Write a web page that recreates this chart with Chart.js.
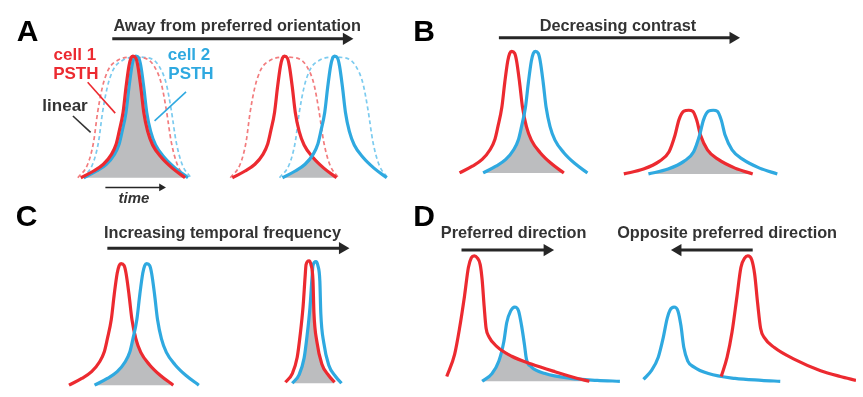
<!DOCTYPE html>
<html>
<head>
<meta charset="utf-8">
<script src="https://cdn.jsdelivr.net/npm/chart.js@4"></script>
<style>
  html, body { margin: 0; padding: 0; background: #fff; }
  canvas { display: block; }
</style>
</head>
<body>
<canvas id="fig" width="863" height="397"></canvas>
<script>
// curve points in figure pixels (x right, y down)

// panel A, near preferred orientation
const aRedL = [[75,177],[88,170],[98,163],[106,153],[111,142],[114,129],[118,109],[121,83],[124,61],[126,53],[128,51],[131,53],[133,61],[136,83],[139,109],[143,129],[148,143],[157,156],[168,167],[181,177]];
const aBlueL = [[78,177],[91,170],[101,163],[109,153],[114,142],[117,129],[121,109],[124,83],[127,61],[129,53],[131,51],[134,53],[136,61],[139,83],[142,109],[146,129],[151,143],[160,156],[171,167],[184,177]];
const aGrayL = [[78,177],[91,170],[101,163],[109,153],[114,142],[117,129],[121,109],[124,83],[127,61],[129.5,54],[133,61],[136,83],[139,109],[143,129],[148,143],[157,156],[168,167],[181,177]];
const aRedDashL = [[72,177],[82,163],[88,140],[92,110],[97,83],[103,65],[113,55],[127,52],[140,53],[150,62],[157,80],[162,107],[167,140],[173,163],[182,177]];
const aBlueDashL = [[77,177],[87,163],[93,140],[97,110],[102,83],[108,65],[118,55],[132,52],[145,53],[155,62],[162,80],[167,107],[172,140],[178,163],[187,177]];

// panel A, away from preferred orientation
const aRedR = [[229,177],[242,170],[252,163],[260,153],[265,142],[268,129],[272,109],[275,83],[278,61],[280,53],[282,51],[285,53],[287,61],[290,83],[293,109],[297,129],[302,143],[311,156],[322,167],[335,177]];
const aBlueR = [[280,177],[293,170],[303,163],[311,153],[316,142],[319,129],[323,109],[326,83],[329,61],[331,53],[333,51],[336,53],[338,61],[341,83],[344,109],[348,129],[353,143],[362,156],[373,167],[386,177]];
const aGrayR = [[280,177],[293,170],[303,163],[310,154.5],[322,167],[335,177]];
const aRedDashR = [[227,177],[237,163],[243,140],[247,110],[252,83],[258,65],[268,55],[282,52],[295,53],[305,62],[312,80],[317,107],[322,140],[328,163],[337,177]];
const aBlueDashR = [[277,177],[287,163],[293,140],[297,110],[302,83],[308,65],[318,55],[332,52],[345,53],[355,62],[362,80],[367,107],[372,140],[378,163],[387,177]];

// panel B
const bRedBig = [[460,172],[473,165],[483,158],[491,148],[496,137],[499,124],[503,104],[506,78],[509,56],[511,48],[513,46],[516,48],[518,56],[521,78],[524,104],[528,124],[533,138],[542,151],[553,162],[566,172]];
const bBlueBig = [[484,172],[497,165],[507,158],[515,148],[520,137],[523,124],[527,104],[530,78],[533,56],[535,48],[537,46],[540,48],[542,56],[545,78],[548,104],[552,124],[557,138],[566,151],[577,162],[590,172]];
const bGrayBig = [[484,172],[497,165],[507,158],[515,148],[520,137],[523,124],[525.5,111],[528,124],[533,138],[542,151],[553,162],[566,172]];
const bRedSmall = [[627,173],[647,168],[663,160],[673,150],[679,133],[683,117],[688,108],[693,107],[697,108],[701,117],[705,133],[712,148],[723,158],[740,167],[758,173]];
const bBlueSmall = [[652,173],[672,168],[688,160],[698,150],[704,133],[708,117],[713,108],[718,107],[722,108],[726,117],[730,133],[737,148],[748,158],[765,167],[783,173]];
const bGraySmall = [[652,173],[672,168],[688,160],[698,150],[704.5,132],[712,148],[723,158],[740,167],[758,173]];

// panel C
const cRedWide = [[63,392],[76,385],[86,378],[94,368],[99,357],[102,344],[106,324],[109,298],[112,276],[114,268],[116,266],[119,268],[121,276],[124,298],[127,324],[131,344],[136,358],[145,371],[156,382],[169,392]];
const cBlueWide = [[89,392],[102,385],[112,378],[120,368],[125,357],[128,344],[132,324],[135,298],[138,276],[140,268],[142,266],[145,268],[147,276],[150,298],[153,324],[157,344],[162,358],[171,371],[182,382],[195,392]];
const cGrayWide = [[89,392],[102,385],[112,378],[120,368],[125,357],[129.5,336],[136,358],[145,371],[156,382],[169,392]];
const cRedNarrow = [[283,389],[290,380],[295,363],[298,340],[301,310],[303,280],[304,267],[307,263],[309,267],[311,283],[312,317],[315,347],[320,370],[327,382],[333,389]];
const cBlueNarrow = [[290,390],[297,381],[302,364],[305,341],[308,311],[310,281],[311,268],[314,264],[316,268],[318,284],[319,318],[322,348],[327,371],[334,383],[340,390]];
const cGrayNarrow = [[290,390],[297,381],[302,364],[305,341],[308,311],[310.5,282],[312,317],[315,347],[320,370],[327,382],[333,389]];

// panel D
const dRedL = [[447,383],[455,360],[460,333],[465,300],[469,270],[472,260],[475,258],[478,260],[481,267],[483,283],[485,310],[487,333],[490,342],[498,352],[513,362],[533,370],[557,378],[580,385],[592,388]];
const dBlueL = [[483,388],[493,380],[500,367],[505,347],[508,327],[512,315],[516,311],[520,315],[523,330],[526,350],[528,365],[533,373],[547,380],[573,385],[600,387],[623,388]];
const dGrayL = [[483,388],[493,380],[500,367],[503,355],[513,362],[530,369],[533,373],[547,380],[573,385],[588,388]];
const dBlueR = [[647,386],[655,377],[662,363],[667,343],[671,323],[674,314],[678,311],[682,315],[685,330],[688,353],[692,367],[698,373],[713,380],[740,385],[767,387],[786,388]];
const dRedR = [[726,383],[732,363],[737,337],[742,300],[746,270],[750,260],[753,258],[757,262],[760,277],[763,307],[766,333],[770,343],[780,353],[800,365],[827,377],[847,383],[863,387]];

// arrows and pointer lines
const arrowA = [[107,33],[345,33]];
const arrowB = [[500,32],[738,32]];
const arrowC = [[102,250],[341,250]];
const arrowD1 = [[462,252],[549,252]];
const arrowD2 = [[758,252],[682,252]];
const arrowTime = [[100,187],[157,187]];
const pointerRed = [[82,78],[110,110]];
const pointerBlue = [[182,88],[150,118]];
const pointerLinear = [[67,113],[85,130]];

const RED = '#ec2a30';
const BLUE = '#2fa9e0';
const RED_DASH = '#f27c7e';
const BLUE_DASH = '#7ccbef';
const GRAY = '#bcbdbf';
const INK = '#262626';

function toPts(arr) {
    return arr.map(p => ({ x: p[0], y: p[1] }));
}

function curve(arr, color) {
    return {
        data: toPts(arr), showLine: true, borderColor: color, borderWidth: 3.2,
        pointRadius: 0, cubicInterpolationMode: 'monotone', fill: false,
        borderJoinStyle: 'round'
    };
}

function dashed(arr, color) {
    const ds = curve(arr, color);
    ds.borderWidth = 1.7;
    ds.borderDash = [4, 3];
    return ds;
}

function shade(arr) {
    return {
        data: toPts(arr), showLine: true, borderWidth: 0, borderColor: 'rgba(0,0,0,0)',
        backgroundColor: GRAY, pointRadius: 0, cubicInterpolationMode: 'monotone',
        fill: { value: arr[0][1] }
    };
}

function arrow(arr, dir, width, head) {
    return {
        data: toPts(arr), showLine: true, borderColor: INK, borderWidth: width,
        pointRadius: [0, head], pointStyle: 'triangle', rotation: dir,
        pointBackgroundColor: INK, pointBorderWidth: 0, pointBorderColor: INK,
        tension: 0, fill: false
    };
}

function plain(arr, color) {
    return {
        data: toPts(arr), showLine: true, borderColor: color, borderWidth: 1.6,
        pointRadius: 0, tension: 0, fill: false
    };
}

const labels = [
    { text: 'A', x: 10, y: 35, font: 'bold 30px "Liberation Sans"', color: '#000', align: 'left' },
    { text: 'B', x: 413, y: 35, font: 'bold 30px "Liberation Sans"', color: '#000', align: 'left' },
    { text: 'C', x: 9, y: 227, font: 'bold 30px "Liberation Sans"', color: '#000', align: 'left' },
    { text: 'D', x: 413, y: 227, font: 'bold 30px "Liberation Sans"', color: '#000', align: 'left' },
    { text: 'Away from preferred orientation', x: 234, y: 25, font: 'bold 16.3px "Liberation Sans"', color: '#333', align: 'center' },
    { text: 'Decreasing contrast', x: 621, y: 25, font: 'bold 16.3px "Liberation Sans"', color: '#333', align: 'center' },
    { text: 'Increasing temporal frequency', x: 219, y: 239, font: 'bold 16.3px "Liberation Sans"', color: '#333', align: 'center' },
    { text: 'Preferred direction', x: 515, y: 239, font: 'bold 16.3px "Liberation Sans"', color: '#333', align: 'center' },
    { text: 'Opposite preferred direction', x: 732, y: 239, font: 'bold 16.3px "Liberation Sans"', color: '#333', align: 'center' },
    { text: 'cell 1', x: 69, y: 55, font: 'bold 17px "Liberation Sans"', color: RED, align: 'center' },
    { text: 'PSTH', x: 70, y: 75, font: 'bold 17px "Liberation Sans"', color: RED, align: 'center' },
    { text: 'cell 2', x: 185, y: 55, font: 'bold 17px "Liberation Sans"', color: BLUE, align: 'center' },
    { text: 'PSTH', x: 187, y: 75, font: 'bold 17px "Liberation Sans"', color: BLUE, align: 'center' },
    { text: 'linear', x: 59, y: 108, font: 'bold 17px "Liberation Sans"', color: '#333', align: 'center' },
    { text: 'time', x: 129, y: 203, font: 'italic bold 15px "Liberation Sans"', color: '#333', align: 'center' }
];

const textPlugin = {
    id: 'figText',
    afterDatasetsDraw(chart) {
        const ctx = chart.ctx;
        const xs = chart.scales.x;
        const ys = chart.scales.y;
        ctx.save();
        ctx.textBaseline = 'alphabetic';
        labels.forEach(l => {
            ctx.font = l.font;
            ctx.fillStyle = l.color;
            ctx.textAlign = l.align;
            ctx.fillText(l.text, xs.getPixelForValue(l.x), ys.getPixelForValue(l.y));
        });
        ctx.restore();
    }
};

const datasets = [
    // label pointers and arrows
    plain(pointerRed, RED),
    plain(pointerBlue, BLUE),
    plain(pointerLinear, '#333'),
    arrow(arrowA, 90, 3, 7),
    arrow(arrowB, 90, 3, 7),
    arrow(arrowC, 90, 3, 7),
    arrow(arrowD1, 90, 3, 7),
    arrow(arrowD2, 270, 3, 7),
    arrow(arrowTime, 90, 1.5, 4.5),
    // solid responses
    curve(aRedL, RED), curve(aBlueL, BLUE),
    curve(aBlueR, BLUE), curve(aRedR, RED),
    curve(bBlueBig, BLUE), curve(bRedBig, RED),
    curve(bBlueSmall, BLUE), curve(bRedSmall, RED),
    curve(cBlueWide, BLUE), curve(cRedWide, RED),
    curve(cRedNarrow, RED), curve(cBlueNarrow, BLUE),
    curve(dRedL, RED), curve(dBlueL, BLUE),
    curve(dRedR, RED), curve(dBlueR, BLUE),
    // linear predictions
    dashed(aRedDashL, RED_DASH), dashed(aBlueDashL, BLUE_DASH),
    dashed(aRedDashR, RED_DASH), dashed(aBlueDashR, BLUE_DASH),
    // overlap
    shade(aGrayL), shade(aGrayR), shade(bGrayBig), shade(bGraySmall),
    shade(cGrayWide), shade(cGrayNarrow), shade(dGrayL)
];

new Chart(document.getElementById('fig'), {
    type: 'scatter',
    data: { datasets: datasets },
    options: {
        responsive: false,
        animation: false,
        devicePixelRatio: 1,
        layout: { padding: 0 },
        scales: {
            x: { type: 'linear', min: 0, max: 863, display: false },
            y: { type: 'linear', min: 0, max: 397, reverse: true, display: false }
        },
        plugins: {
            legend: { display: false },
            tooltip: { enabled: false },
            filler: { drawTime: 'beforeDatasetsDraw' }
        }
    },
    plugins: [textPlugin]
});
</script>
</body>
</html>
